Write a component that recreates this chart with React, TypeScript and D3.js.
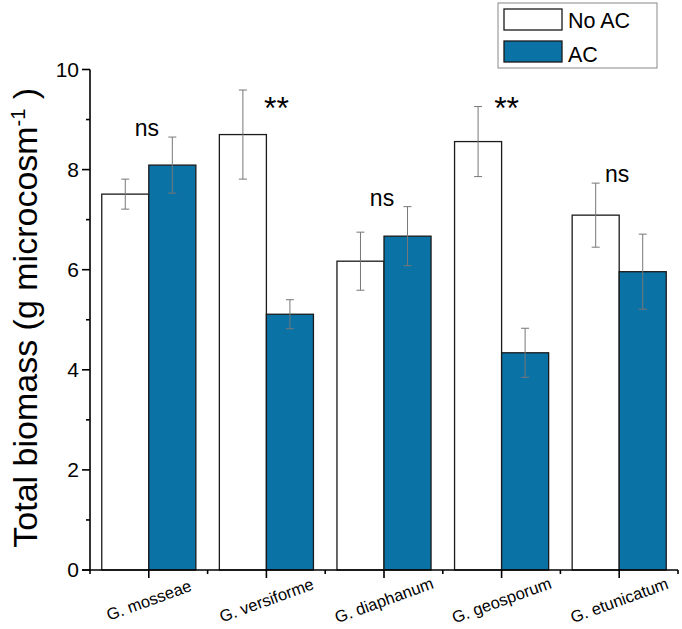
import React from "react";
import * as d3 from "d3";

const categories = ["G. mosseae", "G. versiforme", "G. diaphanum", "G. geosporum", "G. etunicatum"];
const seriesNames = ["No AC", "AC"];
const noAC = [7.51, 8.70, 6.17, 8.56, 7.09];
const noACErr = [0.30, 0.89, 0.58, 0.70, 0.64];
const ac = [8.09, 5.11, 6.67, 4.34, 5.96];
const acErr = [0.56, 0.29, 0.59, 0.49, 0.75];
const sigLabels = ["ns", "**", "ns", "**", "ns"];
const yTicks = [0, 2, 4, 6, 8, 10];
const yMinorTicks = [1, 3, 5, 7, 9];

const W = 682, H = 629;
const left = 90, right = 678, top = 69.5, bottom = 570;
const BLUE = "#0a72a5";
const FONT = "'Liberation Sans', Arial, sans-serif";

export default function App() {
  const x = d3.scaleBand<string>().domain(categories).range([left, right]).paddingInner(0.2).paddingOuter(0.1);
  const step = x.step();
  const y = d3.scaleLinear().domain([0, 10]).range([bottom, top]);
  const sub = d3.scaleBand<string>().domain(seriesNames).range([0, x.bandwidth()]);
  const series = [
    { name: seriesNames[0], vals: noAC, errs: noACErr, fill: "#ffffff" },
    { name: seriesNames[1], vals: ac, errs: acErr, fill: BLUE },
  ];
  const minorX = d3.range(categories.length + 1).map((i) => left + i * step);

  return (
    <svg width={W} height={H} style={{ position: "absolute", left: 0, top: 0, background: "#fff" }} fontFamily={FONT}>
      {series.map((s) =>
        categories.map((c, i) => (
          <rect key={s.name + c} x={(x(c) as number) + (sub(s.name) as number)} y={y(s.vals[i])}
            width={sub.bandwidth()} height={y(0) - y(s.vals[i])} fill={s.fill} stroke="#1a1a1a" strokeWidth={1.3} />
        ))
      )}
      {series.map((s) =>
        categories.map((c, i) => {
          const cx = (x(c) as number) + (sub(s.name) as number) + sub.bandwidth() / 2;
          const y1 = y(s.vals[i] + s.errs[i]);
          const y2 = y(s.vals[i] - s.errs[i]);
          return (
            <g key={"e" + s.name + c} stroke="#777" strokeWidth={1}>
              <line x1={cx} x2={cx} y1={y1} y2={y2} />
              <line x1={cx - 4} x2={cx + 4} y1={y1} y2={y1} />
              <line x1={cx - 4} x2={cx + 4} y1={y2} y2={y2} />
            </g>
          );
        })
      )}
      {categories.map((c, i) => {
        const cx = (x(c) as number) + x.bandwidth() / 2;
        const maxTop = Math.max(noAC[i] + noACErr[i], ac[i] + acErr[i]);
        if (sigLabels[i] === "**") {
          return (
            <text key={"s" + c} x={cx + (i === 1 ? 10 : 5)} y={y(9.5) + 24} fontSize={32} textAnchor="middle" fill="#000">
              {sigLabels[i]}
            </text>
          );
        }
        return (
          <text key={"s" + c} x={cx - 2} y={y(maxTop) - 1} fontSize={23} textAnchor="middle" fill="#000">
            {sigLabels[i]}
          </text>
        );
      })}
      <line x1={left} x2={left} y1={y(10)} y2={y(0)} stroke="#000" strokeWidth={1.6} />
      {yTicks.map((t) => (
        <g key={"yt" + t}>
          <line x1={left - 8} x2={left} y1={y(t)} y2={y(t)} stroke="#000" strokeWidth={1.6} />
          <text x={left - 7} y={y(t)} dy="0.35em" dx="-4" fontSize={21} textAnchor="end" fill="#000">{t}</text>
        </g>
      ))}
      {yMinorTicks.map((t) => (
        <line key={"ym" + t} x1={left - 4} x2={left} y1={y(t)} y2={y(t)} stroke="#000" strokeWidth={1.6} />
      ))}
      <line x1={left - 8} x2={right} y1={bottom} y2={bottom} stroke="#000" strokeWidth={1.6} />
      {categories.map((c) => {
        const cx = (x(c) as number) + x.bandwidth() / 2;
        return (
          <g key={"xt" + c}>
            <line x1={cx} x2={cx} y1={bottom} y2={bottom + 8} stroke="#000" strokeWidth={1.6} />
            <text x={cx} y={600} fontSize={16.5} textAnchor="middle" dominantBaseline="central" fill="#000"
              transform={`rotate(-20, ${cx}, 600)`}>{c}</text>
          </g>
        );
      })}
      {minorX.map((mx, i) => (
        <line key={"xm" + i} x1={mx} x2={mx} y1={bottom} y2={bottom + 4} stroke="#000" strokeWidth={1.6} />
      ))}
      <text transform={`translate(37, ${(top + bottom) / 2 - 2}) rotate(-90)`} textAnchor="middle" fontSize={34} fill="#000">
        Total biomass (g microcosm<tspan dy="-12" fontSize={20}>-1</tspan><tspan dy="12"> )</tspan>
      </text>
      <rect x={498} y={3} width={159} height={65} fill="#fff" stroke="#888" strokeWidth={1} />
      {series.map((s, i) => (
        <g key={"lg" + s.name}>
          <rect x={504} y={9 + i * 32} width={58} height={21} fill={s.fill} stroke="#1a1a1a" strokeWidth={1.3} />
          <text x={568} y={28 + i * 34} fontSize={21.5} fill="#000">{s.name}</text>
        </g>
      ))}
    </svg>
  );
}
